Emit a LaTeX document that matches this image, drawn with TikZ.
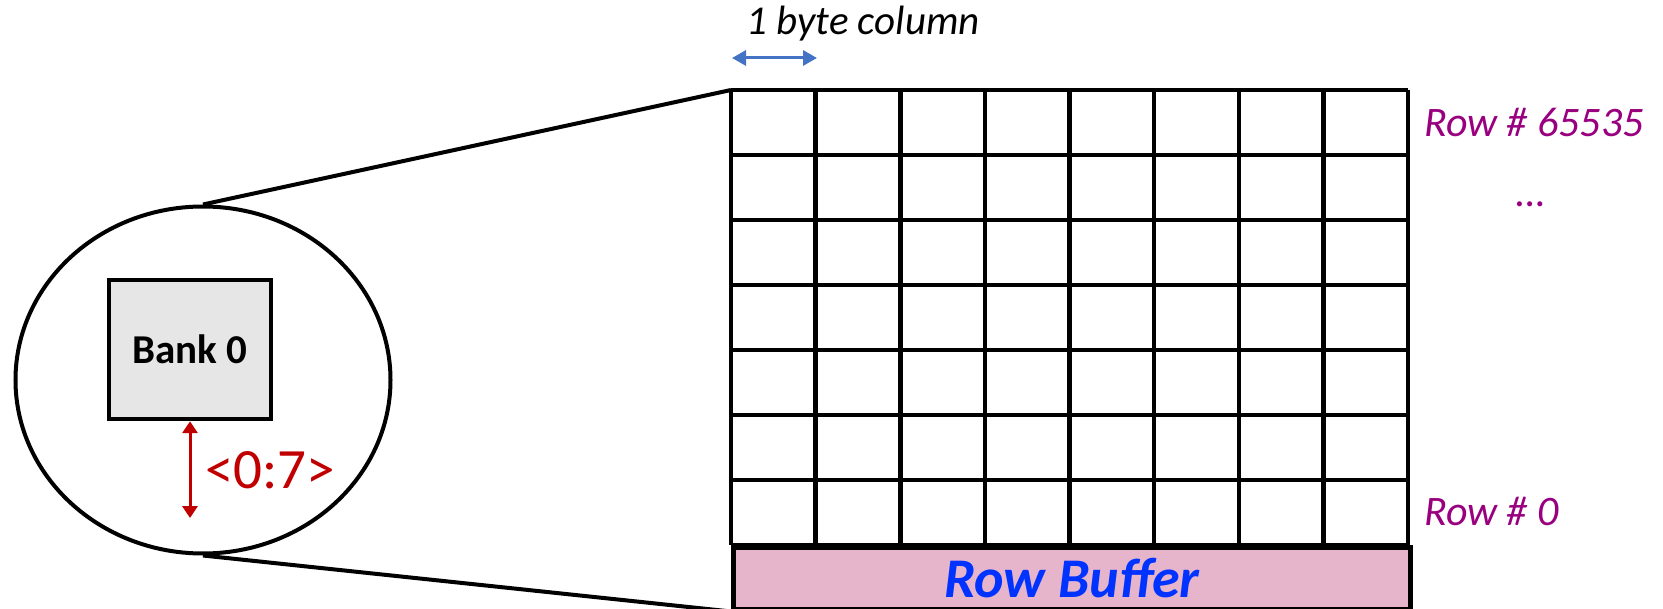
\documentclass[tikz,border=0pt]{standalone}
\usepackage{fontspec}
\setmainfont{Carlito}
\usetikzlibrary{shapes.geometric,arrows.meta}
\definecolor{bankgray}{HTML}{E6E6E6}
\definecolor{sigred}{HTML}{C00000}
\definecolor{colblue}{HTML}{4472C4}
\definecolor{rowpurple}{HTML}{99007F}
\definecolor{bufpink}{HTML}{E6B4CB}
\definecolor{bufblue}{HTML}{0033FF}
\begin{document}
\begin{tikzpicture}[x=1pt,y=-1pt,
  lens/.style={ellipse,draw,line width=4pt,minimum width=375pt,minimum height=347pt,inner sep=0pt},
  bankbox/.style={rectangle,draw,fill=bankgray,line width=4.5pt,minimum width=162pt,minimum height=139pt,inner sep=0pt,
    font=\fontsize{41}{46}\selectfont\bfseries},
  sigarrow/.style={draw=sigred,line width=3pt,{Triangle[length=12pt,width=15pt]}-{Triangle[length=12pt,width=15pt]}},
  siglabel/.style={text=sigred,font=\fontsize{57}{64}\selectfont,inner sep=0pt},
  colarrow/.style={draw=colblue,line width=3pt,{Triangle[length=14pt,width=15pt]}-{Triangle[length=14pt,width=15pt]}},
  collabel/.style={font=\fontsize{41}{46}\selectfont\itshape,inner sep=0pt},
  rowlabel/.style={text=rowpurple,font=\fontsize{42}{48}\selectfont\itshape,inner sep=0pt},
  cellline/.style={line width=4.5pt},
  buffer/.style={rectangle,draw,fill=bufpink,line width=4.5pt,inner sep=0pt,
    text=bufblue,font=\fontsize{56}{62}\selectfont\bfseries\itshape},
  link/.style={line width=4pt}]
\useasboundingbox (0,0) rectangle (1663,609);

% bank inside the magnified lens
\node[lens] (lens) at (203,380) {};
\node[bankbox] (bank) at (190,349.5) {Bank 0};
\coordinate (sigend) at (190,518);
\draw[sigarrow] (bank.south) -- (sigend);
\node[siglabel,anchor=west] (sig) at (205,470) {<0:7>};

% cell array: 8 byte columns x 7 rows
\node[minimum width=677pt,minimum height=455pt,inner sep=0pt,anchor=north west] (array) at (731,90) {};
\foreach \i in {0,...,8}
  \draw[cellline] ({731+\i*84.625},90) -- ({731+\i*84.625},545);
\foreach \j in {0,...,7}
  \draw[cellline] (731,{90+\j*65}) -- (1408,{90+\j*65});

% row buffer under the array
\node[buffer,anchor=north west,minimum width=677pt,minimum height=62pt] (buf) at (731,545) {Row Buffer};

% zoom lines from the lens to the array
\draw[link] (lens.north) -- (array.north west);
\draw[link] (lens.south) -- (buf.south west);

% column width marker
\coordinate (colL) at (732,58);
\coordinate (colR) at (817,58);
\draw[colarrow] (colL) -- (colR);
\node[collabel,anchor=base] (coltext) at (863,35) {1 byte column};

% row labels
\node[rowlabel,anchor=base west] (rowtop) at (1424,137) {Row \# 65535};
\node[rowlabel,anchor=base] (rowdots) at (1531,207) {…};
\node[rowlabel,anchor=base west] (rowzero) at (1424,525) {Row \# 0};
\end{tikzpicture}
\end{document}
